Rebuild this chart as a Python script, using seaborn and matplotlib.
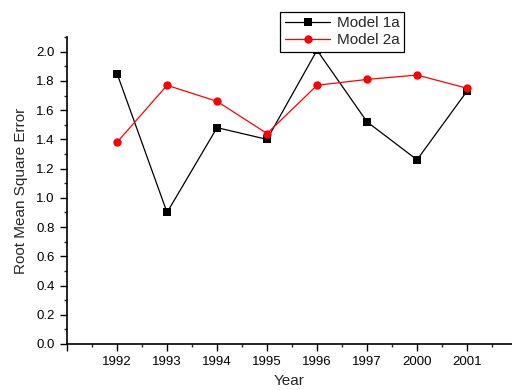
import matplotlib
matplotlib.use("Agg")
import matplotlib.pyplot as plt
import seaborn as sns
import pandas as pd
from matplotlib.ticker import MultipleLocator, FixedLocator

years = ["1992", "1993", "1994", "1995", "1996", "1997", "2000", "2001"]
model_1a = [1.85, 0.90, 1.48, 1.40, 2.01, 1.52, 1.26, 1.73]
model_2a = [1.38, 1.77, 1.66, 1.44, 1.77, 1.81, 1.84, 1.75]

sns.set_style("ticks")
plt.rcParams['font.family'] = ['Liberation Sans', 'DejaVu Sans']

pos = list(range(1, len(years) + 1))
df = pd.DataFrame({
    "pos": pos * 2,
    "rmse": model_1a + model_2a,
    "model": ["Model 1a"] * len(years) + ["Model 2a"] * len(years),
})

fig = plt.figure(figsize=(5.12, 3.9), dpi=100)
ax = fig.add_axes([0.131, 0.118, 0.869, 0.787])

sns.lineplot(data=df, x="pos", y="rmse", hue="model", style="model",
             palette={"Model 1a": "black", "Model 2a": "red"},
             markers={"Model 1a": "s", "Model 2a": "o"}, dashes=False,
             markersize=6, linewidth=0.9, markeredgewidth=0, ax=ax, legend=True)

ax.set_xlim(0, 8.9)
ax.set_ylim(0, 2.1)
ax.xaxis.set_major_locator(FixedLocator(range(0, 9)))
ax.set_xticklabels([""] + years)
ax.xaxis.set_minor_locator(MultipleLocator(0.5))
ax.yaxis.set_major_locator(FixedLocator([i / 5 for i in range(11)]))
ax.set_yticklabels([f"{i/5:.1f}" for i in range(11)])
ax.yaxis.set_minor_locator(MultipleLocator(0.1))
ax.tick_params(which="major", direction="out", length=5, width=1, labelsize=9.5, colors="black", pad=4)
ax.tick_params(which="minor", direction="out", length=2.5, width=1)
for s in ["top", "right"]:
    ax.spines[s].set_visible(False)
for s in ["left", "bottom"]:
    ax.spines[s].set_linewidth(1.2)
    ax.spines[s].set_color("black")

ax.set_xlabel("Year", fontsize=11, labelpad=4)
ax.set_ylabel("Root Mean Square Error", fontsize=11, labelpad=6)

leg = ax.legend(loc="lower left", bbox_to_anchor=(280 / 512, 338 / 390), bbox_transform=fig.transFigure,
                fontsize=11, frameon=True, fancybox=False, framealpha=1, edgecolor="black",
                borderpad=0.3, handlelength=3.0, handletextpad=0.4, labelspacing=0.2, borderaxespad=0)
leg.get_frame().set_linewidth(0.9)

fig.savefig("out.png", dpi=100)
